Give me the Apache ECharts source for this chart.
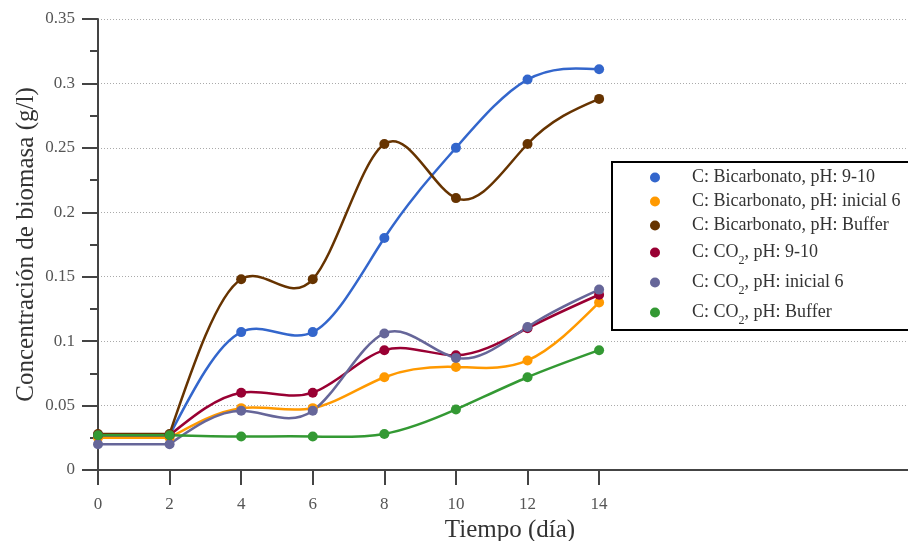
<!DOCTYPE html>
<html>
<head>
<meta charset="utf-8">
<script src="https://cdn.jsdelivr.net/npm/echarts@6/dist/echarts.min.js"></script>
<style>
  html, body { margin: 0; padding: 0; background: #fff; }
  #chart { width: 908px; height: 541px; }
</style>
</head>
<body>
<div id="chart"></div>
<script>
// Sampling days
const days = [0, 2, 4, 6, 8, 10, 12, 14];
const xTickValues = [0, 2, 4, 6, 8, 10, 12, 14];

// Biomass concentration (g/l) per condition
const bicarb_ph910   = [0.027, 0.027, 0.107, 0.107, 0.180, 0.250, 0.303, 0.311];
const bicarb_ph6     = [0.025, 0.025, 0.048, 0.048, 0.072, 0.080, 0.085, 0.130];
const bicarb_buffer  = [0.028, 0.028, 0.148, 0.148, 0.253, 0.211, 0.253, 0.288];
const co2_ph910      = [0.027, 0.027, 0.060, 0.060, 0.093, 0.089, 0.110, 0.136];
const co2_ph6        = [0.020, 0.020, 0.046, 0.046, 0.106, 0.087, 0.111, 0.140];
const co2_buffer     = [0.027, 0.027, 0.026, 0.026, 0.028, 0.047, 0.072, 0.093];

const seriesNames = [
  'C: Bicarbonato, pH: 9-10',
  'C: Bicarbonato, pH: inicial 6',
  'C: Bicarbonato, pH: Buffer',
  'C: CO2, pH: 9-10',
  'C: CO2, pH: inicial 6',
  'C: CO2, pH: Buffer'
];
const seriesValues = [bicarb_ph910, bicarb_ph6, bicarb_buffer, co2_ph910, co2_ph6, co2_buffer];
const seriesColors = ['#3366CC', '#FF9900', '#663300', '#990033', '#666699', '#339933'];

const FONT = '"Liberation Serif", "Times New Roman", serif';
const LAG_END = 1; // index of day 2: straight lag phase before, spline after

// Natural cubic spline slopes (dy/dx) at each knot
function splineSlopes(xs, ys) {
  const n = xs.length;
  const h = [];
  for (let i = 0; i < n - 1; i++) h.push(xs[i + 1] - xs[i]);
  const M = new Array(n).fill(0);
  if (n > 2) {
    const a = [], b = [], c = [], d = [];
    for (let i = 1; i < n - 1; i++) {
      a.push(h[i - 1]);
      b.push(2 * (h[i - 1] + h[i]));
      c.push(h[i]);
      d.push(6 * ((ys[i + 1] - ys[i]) / h[i] - (ys[i] - ys[i - 1]) / h[i - 1]));
    }
    const m = b.length;
    for (let i = 1; i < m; i++) {
      const w = a[i] / b[i - 1];
      b[i] -= w * c[i - 1];
      d[i] -= w * d[i - 1];
    }
    const sol = new Array(m);
    sol[m - 1] = d[m - 1] / b[m - 1];
    for (let i = m - 2; i >= 0; i--) sol[i] = (d[i] - c[i] * sol[i + 1]) / b[i];
    for (let i = 0; i < m; i++) M[i + 1] = sol[i];
  }
  const slopes = [];
  for (let i = 0; i < n - 1; i++) {
    slopes.push((ys[i + 1] - ys[i]) / h[i] - h[i] * (2 * M[i] + M[i + 1]) / 6);
  }
  slopes.push((ys[n - 1] - ys[n - 2]) / h[n - 2] + h[n - 2] * (M[n - 2] + 2 * M[n - 1]) / 6);
  return slopes;
}

// Legend labels with subscript for CO2; plain rows get a spacer for row height
function legendLabel(name) {
  if (name.indexOf('CO2') >= 0) {
    const parts = name.split('CO2');
    return '{n|' + parts[0] + 'CO}{s|2}{n|' + parts[1] + '}';
  }
  return '{n|' + name + '}{p| }';
}

function tickLabel(v) {
  return '{t|' + String(Number(v.toFixed(2))) + '}';
}

function curveRenderer(vals, color) {
  const sx = days.slice(LAG_END);
  const sy = vals.slice(LAG_END);
  const slopes = splineSlopes(sx, sy);
  return function (params, api) {
    const i = params.dataIndex;
    if (i === 0) return null;
    const p0 = api.coord([days[i - 1], vals[i - 1]]);
    const p1 = api.coord([days[i], vals[i]]);
    const style = { stroke: color, lineWidth: 2.5, fill: 'none', lineCap: 'round' };
    if (i <= LAG_END) {
      return { type: 'line', shape: { x1: p0[0], y1: p0[1], x2: p1[0], y2: p1[1] }, style: style };
    }
    const k = i - 1 - LAG_END;
    const h = days[i] - days[i - 1];
    const c0 = api.coord([days[i - 1] + h / 3, vals[i - 1] + slopes[k] * h / 3]);
    const c1 = api.coord([days[i] - h / 3, vals[i] - slopes[k + 1] * h / 3]);
    return {
      type: 'bezierCurve',
      shape: { x1: p0[0], y1: p0[1], cpx1: c0[0], cpy1: c0[1], cpx2: c1[0], cpy2: c1[1], x2: p1[0], y2: p1[1] },
      style: style
    };
  };
}

const series = [];
seriesNames.forEach((name, k) => {
  const vals = seriesValues[k];
  const pts = days.map((d, i) => [d, vals[i]]);
  series.push({
    name: name,
    type: 'custom',
    coordinateSystem: 'cartesian2d',
    renderItem: curveRenderer(vals, seriesColors[k]),
    encode: { x: 0, y: 1 },
    itemStyle: { color: seriesColors[k] },
    data: pts,
    silent: true
  });
  series.push({
    name: name,
    type: 'scatter',
    symbol: 'circle',
    symbolSize: 10,
    itemStyle: { color: seriesColors[k], opacity: 1 },
    emphasis: { disabled: true },
    data: pts
  });
});

const tickText = { t: { fontFamily: FONT, fontSize: 17, color: '#555' } };

const chart = echarts.init(document.getElementById('chart'), null, { renderer: 'canvas' });
chart.setOption({
  animation: false,
  backgroundColor: '#fff',
  textStyle: { fontFamily: FONT },
  grid: { left: 98, right: 0, top: 19, bottom: 71, containLabel: false, outerBoundsMode: 'none' },
  xAxis: {
    type: 'value',
    min: 0,
    max: 22.63,
    interval: 2,
    name: 'Tiempo (día)',
    nameLocation: 'middle',
    nameGap: 48,
    nameMoveOverlap: false,
    nameTextStyle: { fontFamily: FONT, fontSize: 25, color: '#333', padding: [0, 0, 0, 14] },
    axisLine: { show: true, lineStyle: { color: '#444', width: 2 } },
    axisTick: { show: true, length: 15, inside: false, customValues: xTickValues, lineStyle: { color: '#444', width: 2 } },
    axisLabel: { customValues: xTickValues, margin: 26, fontFamily: FONT, fontSize: 17, color: '#555', formatter: tickLabel, rich: tickText },
    splitLine: { show: false }
  },
  yAxis: {
    type: 'value',
    min: 0,
    max: 0.35,
    interval: 0.05,
    name: 'Concentración de biomasa (g/l)',
    nameLocation: 'middle',
    nameGap: 59,
    nameMoveOverlap: false,
    nameTextStyle: { fontFamily: FONT, fontSize: 25, color: '#333' },
    axisLine: { show: true, lineStyle: { color: '#444', width: 2 } },
    axisTick: { show: true, length: 16, inside: false, lineStyle: { color: '#444', width: 2 } },
    minorTick: { show: true, splitNumber: 2, length: 8, lineStyle: { color: '#444', width: 2 } },
    axisLabel: { margin: 23, fontFamily: FONT, fontSize: 17, color: '#555', formatter: tickLabel, rich: tickText },
    splitLine: { show: true, lineStyle: { color: '#aaa', width: 1, type: [1, 2] } }
  },
  legend: {
    orient: 'vertical',
    left: 612,
    top: 162,
    padding: [4, 120, 3, 38],
    itemGap: 1,
    itemWidth: 64,
    itemHeight: 10,
    icon: 'circle',
    borderColor: '#000',
    borderWidth: 2,
    backgroundColor: '#fff',
    data: seriesNames,
    formatter: legendLabel,
    textStyle: {
      fontFamily: FONT,
      fontSize: 18,
      color: '#333',
      rich: {
        n: { fontFamily: FONT, fontSize: 18, color: '#333' },
        p: { fontFamily: FONT, fontSize: 2, lineHeight: 2, padding: [21, 0, 0, 0], color: '#333' },
        s: { fontFamily: FONT, fontSize: 12, lineHeight: 12, padding: [17, 0, 0, 0], color: '#333' }
      }
    }
  },
  series: series
});
</script>
</body>
</html>
